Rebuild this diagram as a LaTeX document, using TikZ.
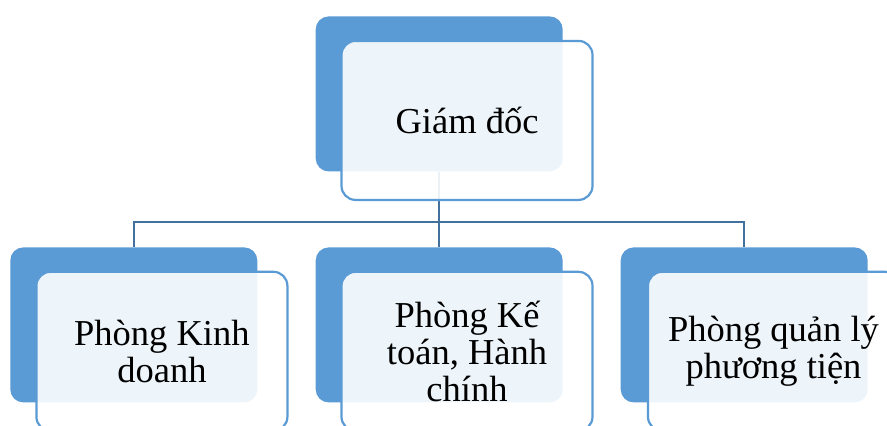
\documentclass[tikz,border=0pt]{standalone}
\usepackage{fontspec}
\setmainfont{Liberation Serif}
\usetikzlibrary{calc}
\definecolor{accent}{HTML}{5B9BD5}
\definecolor{connc}{HTML}{41719C}
\tikzset{
  backbox/.style={rectangle, rounded corners=13pt, fill=accent, draw=none,
    minimum width=247pt, minimum height=155pt, inner sep=0pt},
  frontbox/.style={rectangle, rounded corners=14pt, fill=white, fill opacity=0.9,
    text opacity=1, draw=accent, line width=2.2pt,
    minimum width=251pt, minimum height=159pt, inner sep=0pt,
    align=center, font=\fontsize{36.5}{37}\selectfont},
  conn/.style={draw=connc, line width=2.2pt}
}
\begin{document}
\begin{tikzpicture}[x=1pt,y=1pt]
\useasboundingbox (0,0) rectangle (887,-426);
\clip (0,0) rectangle (887,-426);
\fill[white] (0,0) rectangle (887,-426);
% back boxes
\node[backbox] (gdB) at (439.2,-93.9) {};
\node[backbox] (kdB) at (133.8,-324.9) {};
\node[backbox] (ktB) at (439.2,-324.9) {};
\node[backbox] (ptB) at (744.2,-324.9) {};
% connectors
\coordinate (bus) at (439.2,-222);
\draw[conn] (gdB.south) -- (gdB.south |- bus);
\draw[conn] (gdB.south |- bus) -| (kdB.north);
\draw[conn] (gdB.south |- bus) -- (ktB.north);
\draw[conn] (gdB.south |- bus) -| (ptB.north);
% front boxes
\node[frontbox] (gdF) at (467,-120.4) {Giám đốc};
\node[frontbox] (kdF) at (161.9,-351.3) {Phòng Kinh\\doanh};
\node[frontbox] (ktF) at (467,-351.3) {Phòng Kế\\toán, Hành\\chính};
\node[frontbox] (ptF) at (773.5,-351.3) {Phòng quản lý\\phương tiện};
\end{tikzpicture}
\end{document}
